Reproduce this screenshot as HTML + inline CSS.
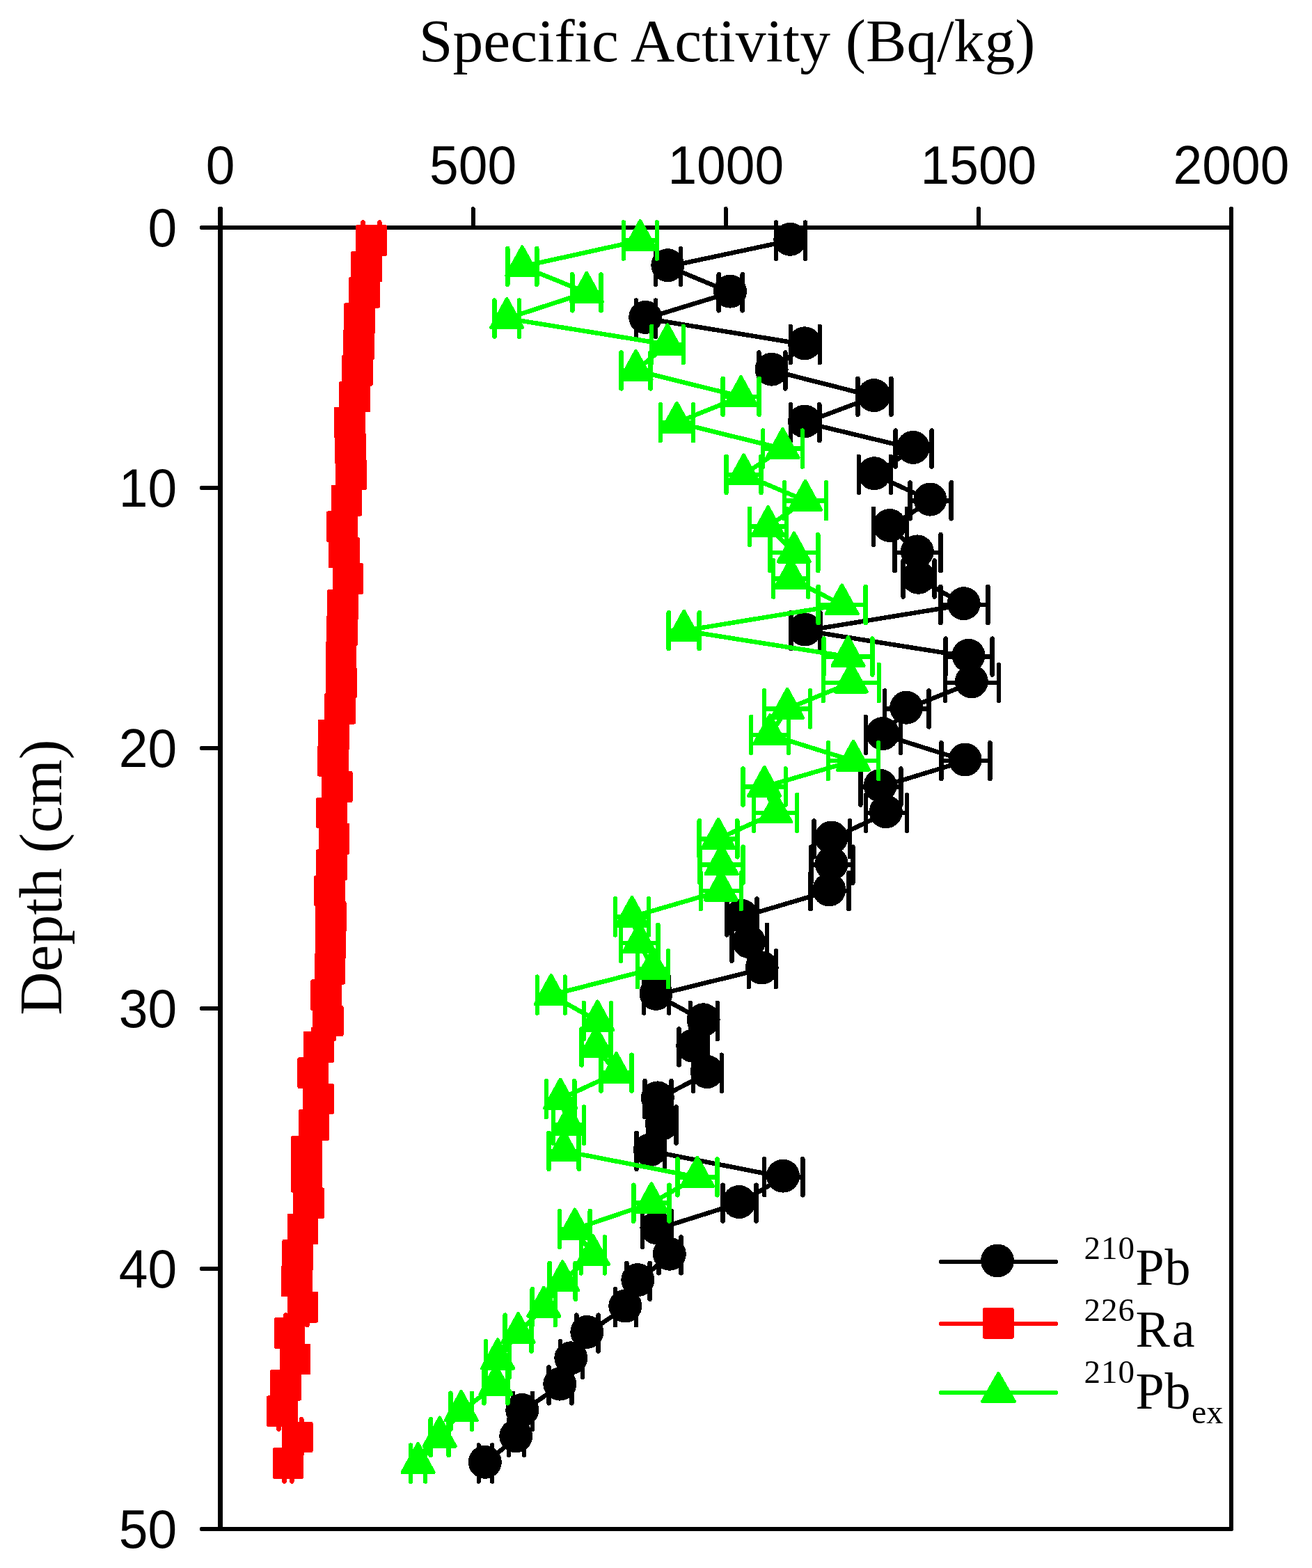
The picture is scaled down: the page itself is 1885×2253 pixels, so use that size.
<!DOCTYPE html>
<html><head><meta charset="utf-8"><title>Specific Activity vs Depth</title>
<style>html,body{margin:0;padding:0;background:#fff;}text{font-variant-ligatures:none;font-feature-settings:"liga" 0;}.serif{font-family:"Liberation Serif",serif;}.sans{font-family:"Liberation Sans",sans-serif;}svg{display:block;}</style></head><body>
<svg width="1885" height="2253" viewBox="0 0 1885 2253">
<rect width="100%" height="100%" fill="#fff"/>
<g class="serif" fill="#000">
<text x="1044.6" y="87.6" font-size="87.6" text-anchor="middle">Specific Activity (Bq/kg)</text>
<text transform="translate(87.6 1260.5) rotate(-90)" font-size="86.5" text-anchor="middle">Depth (cm)</text>
</g>
<g class="sans" font-size="75" fill="#000">
<text transform="translate(316.5 264.3) scale(1 1.035)" text-anchor="middle">0</text>
<text transform="translate(679.6 264.3) scale(1 1.035)" text-anchor="middle">500</text>
<text transform="translate(1042.8 264.3) scale(1 1.035)" text-anchor="middle">1000</text>
<text transform="translate(1405.9 264.3) scale(1 1.035)" text-anchor="middle">1500</text>
<text transform="translate(1769 264.3) scale(1 1.035)" text-anchor="middle">2000</text>
<text transform="translate(254.2 354.3) scale(1 1.035)" text-anchor="end">0</text>
<text transform="translate(254.2 728.3) scale(1 1.035)" text-anchor="end">10</text>
<text transform="translate(254.2 1102.3) scale(1 1.035)" text-anchor="end">20</text>
<text transform="translate(254.2 1476.3) scale(1 1.035)" text-anchor="end">30</text>
<text transform="translate(254.2 1850.3) scale(1 1.035)" text-anchor="end">40</text>
<text transform="translate(254.2 2224.3) scale(1 1.035)" text-anchor="end">50</text>
</g>
<g shape-rendering="crispEdges">
<path d="M290 327H1769M290 2197H1769M1769 300V2197M679.6 300V327M1042.8 300V327M1405.9 300V327M290 701H316.5M290 1075H316.5M290 1449H316.5M290 1823H316.5" fill="none" stroke="#000" stroke-width="6" stroke-linecap="round"/>
<path d="M316.5 300V2197" fill="none" stroke="#000" stroke-width="7" stroke-linecap="round"/>
<g fill="#000">
<polyline points="1136,345.5 960,382.9 1049.7,420.3 927.9,457.6 1156.8,495 1109.3,532.4 1256.4,569.8 1156.7,607.2 1312.6,644.6 1256.8,681.9 1337.1,719.3 1279,756.7 1318.5,794.1 1320.2,831.5 1385.4,868.9 1157.4,906.2 1392.2,943.6 1396.5,981 1302.9,1018.4 1268.9,1055.8 1387.4,1093.2 1265.3,1130.5 1273.5,1167.9 1195.3,1205.3 1195.3,1242.7 1192,1280.1 1066,1317.4 1076.7,1354.8 1095.4,1392.2 943.2,1429.6 1011.3,1467 996,1504.4 1016.5,1541.7 945.5,1579.1 951.5,1616.5 934.7,1653.9 1125.7,1691.3 1062.5,1728.7 944.1,1766 962.5,1803.4 917,1840.8 899,1878.2 844,1915.6 821,1953 805,1990.3 751,2027.7 742,2065.1 697.5,2102.5" fill="none" stroke="#000" stroke-width="6.5" stroke-linejoin="round" stroke-linecap="round"/>
<path d="M1115 345.5H1157M1115 319.5V371.5M1157 319.5V371.5M942 382.9H978M942 356.9V408.9M978 356.9V408.9M1032.7 420.3H1066.7M1032.7 394.3V446.3M1066.7 394.3V446.3M913.9 457.6H941.9M913.9 431.6V483.6M941.9 431.6V483.6M1135.8 495H1177.8M1135.8 469V521M1177.8 469V521M1090.3 532.4H1128.3M1090.3 506.4V558.4M1128.3 506.4V558.4M1232.4 569.8H1280.4M1232.4 543.8V595.8M1280.4 543.8V595.8M1136.1 607.2H1177.3M1136.1 581.2V633.2M1177.3 581.2V633.2M1286.6 644.6H1338.6M1286.6 618.6V670.6M1338.6 618.6V670.6M1233.8 681.9H1279.8M1233.8 655.9V707.9M1279.8 655.9V707.9M1307.5 719.3H1366.7M1307.5 693.3V745.3M1366.7 693.3V745.3M1255 756.7H1303M1255 730.7V782.7M1303 730.7V782.7M1285.5 794.1H1351.5M1285.5 768.1V820.1M1351.5 768.1V820.1M1297.7 831.5H1342.7M1297.7 805.5V857.5M1342.7 805.5V857.5M1351.4 868.9H1419.4M1351.4 842.9V894.9M1419.4 842.9V894.9M1136.4 906.2H1178.4M1136.4 880.2V932.2M1178.4 880.2V932.2M1358.7 943.6H1425.7M1358.7 917.6V969.6M1425.7 917.6V969.6M1357.9 981H1435.1M1357.9 955V1007M1435.1 955V1007M1271.2 1018.4H1334.6M1271.2 992.4V1044.4M1334.6 992.4V1044.4M1243.9 1055.8H1293.9M1243.9 1029.8V1081.8M1293.9 1029.8V1081.8M1352.4 1093.2H1422.4M1352.4 1067.2V1119.2M1422.4 1067.2V1119.2M1236.3 1130.5H1294.3M1236.3 1104.5V1156.5M1294.3 1104.5V1156.5M1244 1167.9H1303M1244 1141.9V1193.9M1303 1141.9V1193.9M1169.6 1205.3H1221M1169.6 1179.3V1231.3M1221 1179.3V1231.3M1165.3 1242.7H1225.3M1165.3 1216.7V1268.7M1225.3 1216.7V1268.7M1164.5 1280.1H1219.5M1164.5 1254.1V1306.1M1219.5 1254.1V1306.1M1044.4 1317.4H1087.6M1044.4 1291.4V1343.4M1087.6 1291.4V1343.4M1051.4 1354.8H1102M1051.4 1328.8V1380.8M1102 1328.8V1380.8M1075.9 1392.2H1114.9M1075.9 1366.2V1418.2M1114.9 1366.2V1418.2M925.2 1429.6H961.2M925.2 1403.6V1455.6M961.2 1403.6V1455.6M991.8 1467H1030.8M991.8 1441V1493M1030.8 1441V1493M975.5 1504.4H1016.5M975.5 1478.4V1530.4M1016.5 1478.4V1530.4M996.2 1541.7H1036.8M996.2 1515.7V1567.7M1036.8 1515.7V1567.7M926.5 1579.1H964.5M926.5 1553.1V1605.1M964.5 1553.1V1605.1M931.5 1616.5H971.5M931.5 1590.5V1642.5M971.5 1590.5V1642.5M914.5 1653.9H954.9M914.5 1627.9V1679.9M954.9 1627.9V1679.9M1098.1 1691.3H1153.3M1098.1 1665.3V1717.3M1153.3 1665.3V1717.3M1038.5 1728.7H1086.5M1038.5 1702.7V1754.7M1086.5 1702.7V1754.7M923.1 1766H965.1M923.1 1740V1792M965.1 1740V1792M946.5 1803.4H978.5M946.5 1777.4V1829.4M978.5 1777.4V1829.4M900.4 1840.8H933.6M900.4 1814.8V1866.8M933.6 1814.8V1866.8M884 1878.2H914M884 1852.2V1904.2M914 1852.2V1904.2M828.4 1915.6H859.6M828.4 1889.6V1941.6M859.6 1889.6V1941.6M805 1953H837M805 1927V1979M837 1927V1979M788.6 1990.3H821.4M788.6 1964.3V2016.3M821.4 1964.3V2016.3M737 2027.7H765M737 2001.7V2053.7M765 2001.7V2053.7M731 2065.1H753M731 2039.1V2091.1M753 2039.1V2091.1M687.8 2102.5H707.2M687.8 2076.5V2128.5M707.2 2076.5V2128.5" fill="none" stroke="#000" stroke-width="6.5" stroke-linecap="round"/>
<circle cx="1135.3" cy="343.8" r="24"/>
<circle cx="959.3" cy="381.2" r="24"/>
<circle cx="1049" cy="418.6" r="24"/>
<circle cx="927.2" cy="455.9" r="24"/>
<circle cx="1156.1" cy="493.3" r="24"/>
<circle cx="1108.6" cy="530.7" r="24"/>
<circle cx="1255.7" cy="568.1" r="24"/>
<circle cx="1156" cy="605.5" r="24"/>
<circle cx="1311.9" cy="642.9" r="24"/>
<circle cx="1256.1" cy="680.2" r="24"/>
<circle cx="1336.4" cy="717.6" r="24"/>
<circle cx="1278.3" cy="755" r="24"/>
<circle cx="1317.8" cy="792.4" r="24"/>
<circle cx="1319.5" cy="829.8" r="24"/>
<circle cx="1384.7" cy="867.2" r="24"/>
<circle cx="1156.7" cy="904.5" r="24"/>
<circle cx="1391.5" cy="941.9" r="24"/>
<circle cx="1395.8" cy="979.3" r="24"/>
<circle cx="1302.2" cy="1016.7" r="24"/>
<circle cx="1268.2" cy="1054.1" r="24"/>
<circle cx="1386.7" cy="1091.5" r="24"/>
<circle cx="1264.6" cy="1128.8" r="24"/>
<circle cx="1272.8" cy="1166.2" r="24"/>
<circle cx="1194.6" cy="1203.6" r="24"/>
<circle cx="1194.6" cy="1241" r="24"/>
<circle cx="1191.3" cy="1278.4" r="24"/>
<circle cx="1065.3" cy="1315.7" r="24"/>
<circle cx="1076" cy="1353.1" r="24"/>
<circle cx="1094.7" cy="1390.5" r="24"/>
<circle cx="942.5" cy="1427.9" r="24"/>
<circle cx="1010.6" cy="1465.3" r="24"/>
<circle cx="995.3" cy="1502.7" r="24"/>
<circle cx="1015.8" cy="1540" r="24"/>
<circle cx="944.8" cy="1577.4" r="24"/>
<circle cx="950.8" cy="1614.8" r="24"/>
<circle cx="934" cy="1652.2" r="24"/>
<circle cx="1125" cy="1689.6" r="24"/>
<circle cx="1061.8" cy="1727" r="24"/>
<circle cx="943.4" cy="1764.3" r="24"/>
<circle cx="961.8" cy="1801.7" r="24"/>
<circle cx="916.3" cy="1839.1" r="24"/>
<circle cx="898.3" cy="1876.5" r="24"/>
<circle cx="843.3" cy="1913.9" r="24"/>
<circle cx="820.3" cy="1951.3" r="24"/>
<circle cx="804.3" cy="1988.6" r="24"/>
<circle cx="750.3" cy="2026" r="24"/>
<circle cx="741.3" cy="2063.4" r="24"/>
<circle cx="696.8" cy="2100.8" r="24"/>
</g>
<g fill="#f00">
<polyline points="533.5,345.5 526.7,382.9 523.6,420.3 516.5,457.6 515.5,495 513.3,532.4 509.7,569.8 502.2,607.2 503.6,644.6 504.4,681.9 497.8,719.3 491.5,756.7 494.4,794.1 499.8,831.5 492.6,868.9 491.4,906.2 490.1,943.6 490.3,981 488.6,1018.4 479.4,1055.8 478.4,1093.2 484.4,1130.5 476.6,1167.9 480,1205.3 476.5,1242.7 473.5,1280.1 475.4,1317.4 475,1354.8 473.9,1392.2 468.6,1429.6 471.2,1467 458,1504.4 449.7,1541.7 457.4,1579.1 450.9,1616.5 440.6,1653.9 440.3,1691.3 443.6,1728.7 434.9,1766 427.7,1803.4 426.2,1840.8 434.9,1878.2 416,1915.6 424,1953 410.6,1990.3 405.5,2027.7 427.2,2065.1 414,2102.5" fill="none" stroke="#f00" stroke-width="6.5" stroke-linejoin="round" stroke-linecap="round"/>
<path d="M521.6 345.5H545.4M521.6 319.5V371.5M545.4 319.5V371.5M515.1 382.9H538.3M515.1 356.9V408.9M538.3 356.9V408.9M512.2 420.3H535M512.2 394.3V446.3M535 394.3V446.3M505.5 457.6H527.5M505.5 431.6V483.6M527.5 431.6V483.6M504.6 495H526.4M504.6 469V521M526.4 469V521M502.5 532.4H524.1M502.5 506.4V558.4M524.1 506.4V558.4M499.1 569.8H520.3M499.1 543.8V595.8M520.3 543.8V595.8M492 607.2H512.4M492 581.2V633.2M512.4 581.2V633.2M493.3 644.6H513.9M493.3 618.6V670.6M513.9 618.6V670.6M494.1 681.9H514.7M494.1 655.9V707.9M514.7 655.9V707.9M487.8 719.3H507.8M487.8 693.3V745.3M507.8 693.3V745.3M481.9 756.7H501.1M481.9 730.7V782.7M501.1 730.7V782.7M484.6 794.1H504.2M484.6 768.1V820.1M504.2 768.1V820.1M489.7 831.5H509.9M489.7 805.5V857.5M509.9 805.5V857.5M482.9 868.9H502.3M482.9 842.9V894.9M502.3 842.9V894.9M481.8 906.2H501M481.8 880.2V932.2M501 880.2V932.2M480.6 943.6H499.6M480.6 917.6V969.6M499.6 917.6V969.6M480.7 981H499.9M480.7 955V1007M499.9 955V1007M479.1 1018.4H498.1M479.1 992.4V1044.4M498.1 992.4V1044.4M470.4 1055.8H488.4M470.4 1029.8V1081.8M488.4 1029.8V1081.8M469.5 1093.2H487.3M469.5 1067.2V1119.2M487.3 1067.2V1119.2M475.2 1130.5H493.6M475.2 1104.5V1156.5M493.6 1104.5V1156.5M467.8 1167.9H485.4M467.8 1141.9V1193.9M485.4 1141.9V1193.9M471 1205.3H489M471 1179.3V1231.3M489 1179.3V1231.3M467.7 1242.7H485.3M467.7 1216.7V1268.7M485.3 1216.7V1268.7M464.9 1280.1H482.1M464.9 1254.1V1306.1M482.1 1254.1V1306.1M466.7 1317.4H484.1M466.7 1291.4V1343.4M484.1 1291.4V1343.4M466.3 1354.8H483.7M466.3 1328.8V1380.8M483.7 1328.8V1380.8M465.2 1392.2H482.6M465.2 1366.2V1418.2M482.6 1366.2V1418.2M460.2 1429.6H477M460.2 1403.6V1455.6M477 1403.6V1455.6M462.7 1467H479.7M462.7 1441V1493M479.7 1441V1493M450.2 1504.4H465.8M450.2 1478.4V1530.4M465.8 1478.4V1530.4M442.4 1541.7H457M442.4 1515.7V1567.7M457 1515.7V1567.7M449.7 1579.1H465.1M449.7 1553.1V1605.1M465.1 1553.1V1605.1M443.5 1616.5H458.3M443.5 1590.5V1642.5M458.3 1590.5V1642.5M433.8 1653.9H447.4M433.8 1627.9V1679.9M447.4 1627.9V1679.9M433.5 1691.3H447.1M433.5 1665.3V1717.3M447.1 1665.3V1717.3M436.6 1728.7H450.6M436.6 1702.7V1754.7M450.6 1702.7V1754.7M428.4 1766H441.4M428.4 1740V1792M441.4 1740V1792M421.6 1803.4H433.8M421.6 1777.4V1829.4M433.8 1777.4V1829.4M420.2 1840.8H432.2M420.2 1814.8V1866.8M432.2 1814.8V1866.8M428.4 1878.2H441.4M428.4 1852.2V1904.2M441.4 1852.2V1904.2M410.5 1915.6H421.5M410.5 1889.6V1941.6M421.5 1889.6V1941.6M418.1 1953H429.9M418.1 1927V1979M429.9 1927V1979M405.4 1990.3H415.8M405.4 1964.3V2016.3M415.8 1964.3V2016.3M400.6 2027.7H410.4M400.6 2001.7V2053.7M410.4 2001.7V2053.7M421.1 2065.1H433.3M421.1 2039.1V2091.1M433.3 2039.1V2091.1M408.6 2102.5H419.4M408.6 2076.5V2128.5M419.4 2076.5V2128.5" fill="none" stroke="#f00" stroke-width="6.5" stroke-linecap="round"/>
<rect x="511.2" y="323.2" width="44.6" height="44.6" rx="2"/>
<rect x="504.4" y="360.6" width="44.6" height="44.6" rx="2"/>
<rect x="501.3" y="398" width="44.6" height="44.6" rx="2"/>
<rect x="494.2" y="435.3" width="44.6" height="44.6" rx="2"/>
<rect x="493.2" y="472.7" width="44.6" height="44.6" rx="2"/>
<rect x="491" y="510.1" width="44.6" height="44.6" rx="2"/>
<rect x="487.4" y="547.5" width="44.6" height="44.6" rx="2"/>
<rect x="479.9" y="584.9" width="44.6" height="44.6" rx="2"/>
<rect x="481.3" y="622.3" width="44.6" height="44.6" rx="2"/>
<rect x="482.1" y="659.6" width="44.6" height="44.6" rx="2"/>
<rect x="475.5" y="697" width="44.6" height="44.6" rx="2"/>
<rect x="469.2" y="734.4" width="44.6" height="44.6" rx="2"/>
<rect x="472.1" y="771.8" width="44.6" height="44.6" rx="2"/>
<rect x="477.5" y="809.2" width="44.6" height="44.6" rx="2"/>
<rect x="470.3" y="846.6" width="44.6" height="44.6" rx="2"/>
<rect x="469.1" y="883.9" width="44.6" height="44.6" rx="2"/>
<rect x="467.8" y="921.3" width="44.6" height="44.6" rx="2"/>
<rect x="468" y="958.7" width="44.6" height="44.6" rx="2"/>
<rect x="466.3" y="996.1" width="44.6" height="44.6" rx="2"/>
<rect x="457.1" y="1033.5" width="44.6" height="44.6" rx="2"/>
<rect x="456.1" y="1070.9" width="44.6" height="44.6" rx="2"/>
<rect x="462.1" y="1108.2" width="44.6" height="44.6" rx="2"/>
<rect x="454.3" y="1145.6" width="44.6" height="44.6" rx="2"/>
<rect x="457.7" y="1183" width="44.6" height="44.6" rx="2"/>
<rect x="454.2" y="1220.4" width="44.6" height="44.6" rx="2"/>
<rect x="451.2" y="1257.8" width="44.6" height="44.6" rx="2"/>
<rect x="453.1" y="1295.1" width="44.6" height="44.6" rx="2"/>
<rect x="452.7" y="1332.5" width="44.6" height="44.6" rx="2"/>
<rect x="451.6" y="1369.9" width="44.6" height="44.6" rx="2"/>
<rect x="446.3" y="1407.3" width="44.6" height="44.6" rx="2"/>
<rect x="448.9" y="1444.7" width="44.6" height="44.6" rx="2"/>
<rect x="435.7" y="1482.1" width="44.6" height="44.6" rx="2"/>
<rect x="427.4" y="1519.4" width="44.6" height="44.6" rx="2"/>
<rect x="435.1" y="1556.8" width="44.6" height="44.6" rx="2"/>
<rect x="428.6" y="1594.2" width="44.6" height="44.6" rx="2"/>
<rect x="418.3" y="1631.6" width="44.6" height="44.6" rx="2"/>
<rect x="418" y="1669" width="44.6" height="44.6" rx="2"/>
<rect x="421.3" y="1706.4" width="44.6" height="44.6" rx="2"/>
<rect x="412.6" y="1743.7" width="44.6" height="44.6" rx="2"/>
<rect x="405.4" y="1781.1" width="44.6" height="44.6" rx="2"/>
<rect x="403.9" y="1818.5" width="44.6" height="44.6" rx="2"/>
<rect x="412.6" y="1855.9" width="44.6" height="44.6" rx="2"/>
<rect x="393.7" y="1893.3" width="44.6" height="44.6" rx="2"/>
<rect x="401.7" y="1930.7" width="44.6" height="44.6" rx="2"/>
<rect x="388.3" y="1968" width="44.6" height="44.6" rx="2"/>
<rect x="383.2" y="2005.4" width="44.6" height="44.6" rx="2"/>
<rect x="404.9" y="2042.8" width="44.6" height="44.6" rx="2"/>
<rect x="391.7" y="2080.2" width="44.6" height="44.6" rx="2"/>
</g>
<g fill="#0f0" stroke="#0f0" stroke-width="5" stroke-linejoin="round">
<polyline points="919.9,345.5 750.3,382.9 842.9,420.3 728.2,457.6 959,495 913.6,532.4 1064.6,569.8 972.4,607.2 1124.5,644.6 1068.5,681.9 1157,719.3 1103.5,756.7 1140.8,794.1 1136.2,831.5 1209.6,868.9 982.7,906.2 1218.5,943.6 1222.8,981 1131.1,1018.4 1106.2,1055.8 1226,1093.2 1098.2,1130.5 1114.2,1167.9 1032,1205.3 1036.6,1242.7 1035.8,1280.1 908,1317.4 918.6,1354.8 938,1392.2 791.8,1429.6 858.4,1467 856.6,1504.4 885.5,1541.7 805.1,1579.1 817,1616.5 810.1,1653.9 1001.9,1691.3 935.9,1728.7 825.9,1766 851.8,1803.4 808.2,1840.8 781.3,1878.2 744.6,1915.6 715.1,1953 712.4,1990.3 662.7,2027.7 631.7,2065.1 600.6,2102.5" fill="none" stroke="#0f0" stroke-width="6.5" stroke-linejoin="round" stroke-linecap="round"/>
<path d="M895.9 345.5H943.9M895.9 319.5V371.5M943.9 319.5V371.5M729.3 382.9H771.3M729.3 356.9V408.9M771.3 356.9V408.9M822.3 420.3H863.5M822.3 394.3V446.3M863.5 394.3V446.3M710.4 457.6H746M710.4 431.6V483.6M746 431.6V483.6M936.2 495H981.8M936.2 469V521M981.8 469V521M892.6 532.4H934.6M892.6 506.4V558.4M934.6 506.4V558.4M1038.6 569.8H1090.6M1038.6 543.8V595.8M1090.6 543.8V595.8M948.8 607.2H996M948.8 581.2V633.2M996 581.2V633.2M1096.2 644.6H1152.8M1096.2 618.6V670.6M1152.8 618.6V670.6M1043.5 681.9H1093.5M1043.5 655.9V707.9M1093.5 655.9V707.9M1127 719.3H1187M1127 693.3V745.3M1187 693.3V745.3M1077 756.7H1130M1077 730.7V782.7M1130 730.7V782.7M1106.3 794.1H1175.3M1106.3 768.1V820.1M1175.3 768.1V820.1M1111.2 831.5H1161.2M1111.2 805.5V857.5M1161.2 805.5V857.5M1175.6 868.9H1243.6M1175.6 842.9V894.9M1243.6 842.9V894.9M960.7 906.2H1004.7M960.7 880.2V932.2M1004.7 880.2V932.2M1183.7 943.6H1253.3M1183.7 917.6V969.6M1253.3 917.6V969.6M1182.8 981H1262.8M1182.8 955V1007M1262.8 955V1007M1098.1 1018.4H1164.1M1098.1 992.4V1044.4M1164.1 992.4V1044.4M1079.2 1055.8H1133.2M1079.2 1029.8V1081.8M1133.2 1029.8V1081.8M1189.8 1093.2H1262.2M1189.8 1067.2V1119.2M1262.2 1067.2V1119.2M1067.6 1130.5H1128.8M1067.6 1104.5V1156.5M1128.8 1104.5V1156.5M1083.2 1167.9H1145.2M1083.2 1141.9V1193.9M1145.2 1141.9V1193.9M1004.7 1205.3H1059.3M1004.7 1179.3V1231.3M1059.3 1179.3V1231.3M1005.6 1242.7H1067.6M1005.6 1216.7V1268.7M1067.6 1216.7V1268.7M1006.8 1280.1H1064.8M1006.8 1254.1V1306.1M1064.8 1254.1V1306.1M884 1317.4H932M884 1291.4V1343.4M932 1291.4V1343.4M891.8 1354.8H945.4M891.8 1328.8V1380.8M945.4 1328.8V1380.8M916 1392.2H960M916 1366.2V1418.2M960 1366.2V1418.2M771.8 1429.6H811.8M771.8 1403.6V1455.6M811.8 1403.6V1455.6M838.8 1467H878M838.8 1441V1493M878 1441V1493M835.6 1504.4H877.6M835.6 1478.4V1530.4M877.6 1478.4V1530.4M863.5 1541.7H907.5M863.5 1515.7V1567.7M907.5 1515.7V1567.7M784.9 1579.1H825.3M784.9 1553.1V1605.1M825.3 1553.1V1605.1M795 1616.5H839M795 1590.5V1642.5M839 1590.5V1642.5M788.5 1653.9H831.7M788.5 1627.9V1679.9M831.7 1627.9V1679.9M973.4 1691.3H1030.4M973.4 1665.3V1717.3M1030.4 1665.3V1717.3M910.3 1728.7H961.5M910.3 1702.7V1754.7M961.5 1702.7V1754.7M804.1 1766H847.7M804.1 1740V1792M847.7 1740V1792M834.8 1803.4H868.8M834.8 1777.4V1829.4M868.8 1777.4V1829.4M789.7 1840.8H826.7M789.7 1814.8V1866.8M826.7 1814.8V1866.8M764.7 1878.2H797.9M764.7 1852.2V1904.2M797.9 1852.2V1904.2M725.6 1915.6H763.6M725.6 1889.6V1941.6M763.6 1889.6V1941.6M698.1 1953H732.1M698.1 1927V1979M732.1 1927V1979M695.4 1990.3H729.4M695.4 1964.3V2016.3M729.4 1964.3V2016.3M647.4 2027.7H678M647.4 2001.7V2053.7M678 2001.7V2053.7M618.7 2065.1H644.7M618.7 2039.1V2091.1M644.7 2039.1V2091.1M590 2102.5H611.2M590 2076.5V2128.5M611.2 2076.5V2128.5" fill="none" stroke="#0f0" stroke-width="6.5" stroke-linecap="round"/>
<path d="M919.9 317.5L942.4 358.5L897.4 358.5Z"/>
<path d="M750.3 354.9L772.8 395.9L727.8 395.9Z"/>
<path d="M842.9 392.3L865.4 433.3L820.4 433.3Z"/>
<path d="M728.2 429.6L750.7 470.6L705.7 470.6Z"/>
<path d="M959 467L981.5 508L936.5 508Z"/>
<path d="M913.6 504.4L936.1 545.4L891.1 545.4Z"/>
<path d="M1064.6 541.8L1087.1 582.8L1042.1 582.8Z"/>
<path d="M972.4 579.2L994.9 620.2L949.9 620.2Z"/>
<path d="M1124.5 616.6L1147 657.6L1102 657.6Z"/>
<path d="M1068.5 653.9L1091 694.9L1046 694.9Z"/>
<path d="M1157 691.3L1179.5 732.3L1134.5 732.3Z"/>
<path d="M1103.5 728.7L1126 769.7L1081 769.7Z"/>
<path d="M1140.8 766.1L1163.3 807.1L1118.3 807.1Z"/>
<path d="M1136.2 803.5L1158.7 844.5L1113.7 844.5Z"/>
<path d="M1209.6 840.9L1232.1 881.9L1187.1 881.9Z"/>
<path d="M982.7 878.2L1005.2 919.2L960.2 919.2Z"/>
<path d="M1218.5 915.6L1241 956.6L1196 956.6Z"/>
<path d="M1222.8 953L1245.3 994L1200.3 994Z"/>
<path d="M1131.1 990.4L1153.6 1031.4L1108.6 1031.4Z"/>
<path d="M1106.2 1027.8L1128.7 1068.8L1083.7 1068.8Z"/>
<path d="M1226 1065.2L1248.5 1106.2L1203.5 1106.2Z"/>
<path d="M1098.2 1102.5L1120.7 1143.5L1075.7 1143.5Z"/>
<path d="M1114.2 1139.9L1136.7 1180.9L1091.7 1180.9Z"/>
<path d="M1032 1177.3L1054.5 1218.3L1009.5 1218.3Z"/>
<path d="M1036.6 1214.7L1059.1 1255.7L1014.1 1255.7Z"/>
<path d="M1035.8 1252.1L1058.3 1293.1L1013.3 1293.1Z"/>
<path d="M908 1289.4L930.5 1330.4L885.5 1330.4Z"/>
<path d="M918.6 1326.8L941.1 1367.8L896.1 1367.8Z"/>
<path d="M938 1364.2L960.5 1405.2L915.5 1405.2Z"/>
<path d="M791.8 1401.6L814.3 1442.6L769.3 1442.6Z"/>
<path d="M858.4 1439L880.9 1480L835.9 1480Z"/>
<path d="M856.6 1476.4L879.1 1517.4L834.1 1517.4Z"/>
<path d="M885.5 1513.7L908 1554.7L863 1554.7Z"/>
<path d="M805.1 1551.1L827.6 1592.1L782.6 1592.1Z"/>
<path d="M817 1588.5L839.5 1629.5L794.5 1629.5Z"/>
<path d="M810.1 1625.9L832.6 1666.9L787.6 1666.9Z"/>
<path d="M1001.9 1663.3L1024.4 1704.3L979.4 1704.3Z"/>
<path d="M935.9 1700.7L958.4 1741.7L913.4 1741.7Z"/>
<path d="M825.9 1738L848.4 1779L803.4 1779Z"/>
<path d="M851.8 1775.4L874.3 1816.4L829.3 1816.4Z"/>
<path d="M808.2 1812.8L830.7 1853.8L785.7 1853.8Z"/>
<path d="M781.3 1850.2L803.8 1891.2L758.8 1891.2Z"/>
<path d="M744.6 1887.6L767.1 1928.6L722.1 1928.6Z"/>
<path d="M715.1 1925L737.6 1966L692.6 1966Z"/>
<path d="M712.4 1962.3L734.9 2003.3L689.9 2003.3Z"/>
<path d="M662.7 1999.7L685.2 2040.7L640.2 2040.7Z"/>
<path d="M631.7 2037.1L654.2 2078.1L609.2 2078.1Z"/>
<path d="M600.6 2074.5L623.1 2115.5L578.1 2115.5Z"/>
</g>
<path d="M1352 1813H1517" stroke="#000" stroke-width="6" stroke-linecap="round"/>
<circle cx="1433" cy="1811.5" r="24" fill="#000"/>
<path d="M1352 1902H1517" stroke="#f00" stroke-width="6" stroke-linecap="round"/>
<rect x="1412" y="1879" width="44.6" height="44.6" rx="2" fill="#f00"/>
<path d="M1352 2001H1517" stroke="#0f0" stroke-width="6" stroke-linecap="round"/>
<path d="M1434.5 1973.8L1457.4 2013.8L1411.6 2013.8Z" fill="#0f0" stroke="#0f0" stroke-width="5" stroke-linejoin="round"/>
</g>
<g class="serif" fill="#000">
<text x="1557.5" y="1809.3" font-size="47" letter-spacing="1">210</text>
<text x="1631.5" y="1846" font-size="74" letter-spacing="0.8">Pb</text>
<text x="1557.5" y="1898" font-size="47" letter-spacing="1">226</text>
<text x="1631.5" y="1935" font-size="74" letter-spacing="3">Ra</text>
<text x="1557.5" y="1986.8" font-size="47" letter-spacing="1">210</text>
<text x="1631.5" y="2023.8" font-size="74" letter-spacing="0.8">Pb</text>
<text x="1712" y="2045" font-size="48">ex</text>
</g>
</svg>
</body></html>
